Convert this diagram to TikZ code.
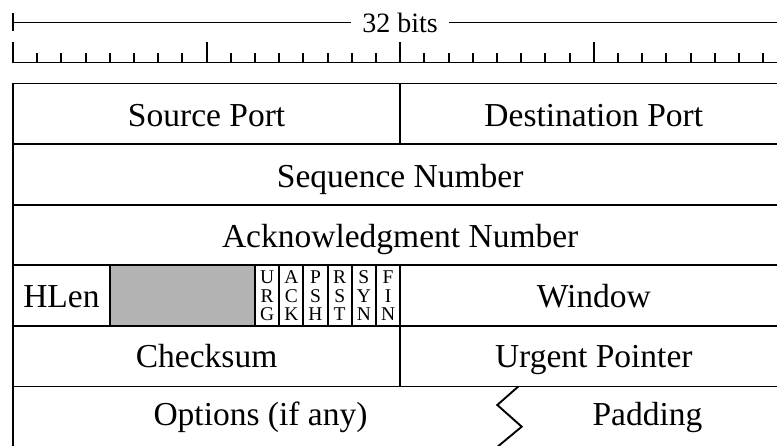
\documentclass[tikz,border=0pt]{standalone}
\usepackage{fontspec}
\setmainfont{Liberation Serif}
\definecolor{reservedgray}{RGB}{179,179,179}
\begin{document}
\begin{tikzpicture}[x=1pt,y=-1pt,line width=1.9pt,
  field/.style={font=\fontsize{33.5}{40}\selectfont,anchor=base,inner sep=0pt},
  flagtxt/.style={font=\fontsize{19.5}{18.3}\selectfont,anchor=base,align=center,inner sep=0pt},
  widthlabel/.style={font=\fontsize{28}{32}\selectfont,inner xsep=10pt,inner ysep=0pt}]
\useasboundingbox (0,0) rectangle (777,446);
\clip (0,0) rectangle (777,446);

% ---- word width label
\node[widthlabel] (bits) at (400,22.5) {32 bits};
\draw (13,13.5) -- (13,31.5);
\draw (13,22.5) -- (bits.west);
\draw (bits.east) -- (800,22.5);

% ---- bit ruler
\draw (12,62.5) -- (800,62.5);
\foreach \k in {0,...,32} {
  \pgfmathsetmacro\tickTop{mod(\k,8)==0 ? 42 : 53}
  \draw (13+24.2*\k,\tickTop) -- (13+24.2*\k,62.5);
}

% ---- header rows (bit b at x = 13 + 24.2 b)
\fill[reservedgray] (109.8,265.3) rectangle (255,325.9);
\foreach \y in {83.5,144.1,204.7,265.3,325.9,386.5}
  \draw (12.05,\y) -- (800,\y);
\draw (13,83.5) -- (13,447);
\draw (400.2,83.5) -- (400.2,144.1);
\draw (400.2,265.3) -- (400.2,386.5);
\foreach \x in {109.8,255,279.2,303.4,327.6,351.8,376}
  \draw (\x,265.3) -- (\x,325.9);
\draw (518.3,386.5) -- (497.3,405) -- (521.7,426.7) -- (496,448);

% ---- field names
\node[field] (srcport)  at (206.6,126.7) {Source Port};
\node[field] (dstport)  at (593.8,126.7) {Destination Port};
\node[field] (seqnum)   at (400.2,187.3) {Sequence Number};
\node[field] (acknum)   at (400.2,247.9) {Acknowledgment Number};
\node[field] (hlen)     at (61.4,307.4)  {HLen};
\node[field] (window)   at (593.8,307.4) {Window};
\node[field] (checksum) at (206.6,368.0) {Checksum};
\node[field] (urgptr)   at (593.8,368.0) {Urgent Pointer};
\node[field] (options)  at (260.5,425)   {Options (if any)};
\node[field] (padding)  at (647.5,425)   {Padding};

% ---- control flags (base anchor sits on the last letter's baseline)
\node[flagtxt] (furg) at (267.1,320.5) {U\\R\\G};
\node[flagtxt] (fack) at (291.3,320.5) {A\\C\\K};
\node[flagtxt] (fpsh) at (315.5,320.5) {P\\S\\H};
\node[flagtxt] (frst) at (339.7,320.5) {R\\S\\T};
\node[flagtxt] (fsyn) at (363.9,320.5) {S\\Y\\N};
\node[flagtxt] (ffin) at (388.1,320.5) {F\\I\\N};
\end{tikzpicture}
\end{document}
